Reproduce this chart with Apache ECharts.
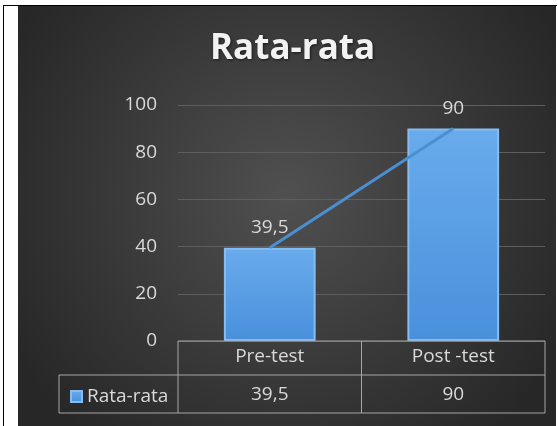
<!DOCTYPE html>
<html>
<head>
<meta charset="utf-8">
<script src="https://cdn.jsdelivr.net/npm/echarts@6/dist/echarts.min.js"></script>
<style>
html,body{margin:0;padding:0;background:#fff;width:558px;height:426px;overflow:hidden;}
#lineL{position:absolute;left:3px;top:5px;width:1px;height:421px;background:#000;}
#lineT{position:absolute;left:3px;top:5px;width:554px;height:1px;background:#000;}
#c{position:absolute;left:18px;top:6px;width:538px;height:420px;}
</style>
</head>
<body>
<div id="lineL"></div><div id="lineT"></div>
<div id="c"></div>
<script>
const title = 'Rata-rata';
const seriesName = 'Rata-rata';
const categories = ['Pre-test', 'Post -test'];
const values = [39.5, 90];
const yTicks = { min: 0, max: 100, interval: 20 };

const fmt = v => String(v).replace('.', ',');
const font = '"Open Sans", Lato, sans-serif';
const txt = '#d9d9d9';
const fs = 19;
const G = { left: 160, right: 11, top: 99, bottom: 85 };
const W = 538, H = 420;

const chart = echarts.init(document.getElementById('c'), null, { renderer: 'canvas' });

const gl = G.left, gr = W - G.right, gb = H - G.bottom;
const mid = (gl + gr) / 2;
const row1 = gb + 34, row2 = gb + 72;
const legL = 41;
const lineStyle = { stroke: '#a6a6a6', lineWidth: 1 };
const seg = (x1, y1, x2, y2) => ({ type: 'line', silent: true, shape: { x1, y1, x2, y2 }, style: lineStyle, z: 10 });

chart.setOption({
  backgroundColor: {
    type: 'radial', x: 0.5, y: 0.45, r: 0.75,
    colorStops: [{ offset: 0, color: '#505050' }, { offset: 1, color: '#272727' }]
  },
  title: {
    text: title, left: 187, top: 21,
    textStyle: { color: '#f2f2f2', fontFamily: font, fontWeight: 'bold', fontSize: 35,
      textShadowColor: 'rgba(0,0,0,0.6)', textShadowBlur: 3, textShadowOffsetX: 1, textShadowOffsetY: 1 }
  },
  legend: {
    data: [seriesName], left: legL + 6, top: row1 + 7, itemWidth: 11, itemHeight: 11, itemGap: 5,
    icon: 'rect', selectedMode: false,
    textStyle: { color: txt, fontFamily: font, fontSize: fs }
  },
  grid: G,
  xAxis: [{
    type: 'category', data: categories, position: 'bottom',
    axisLine: { show: false }, axisTick: { show: false },
    axisLabel: { color: txt, fontFamily: font, fontSize: fs, margin: 6 }
  }, {
    type: 'category', data: values.map(fmt), position: 'bottom', offset: 37,
    axisLine: { show: false }, axisTick: { show: false },
    axisLabel: { color: txt, fontFamily: font, fontSize: fs, margin: 7 }
  }],
  yAxis: {
    type: 'value', min: yTicks.min, max: yTicks.max, interval: yTicks.interval,
    axisLine: { show: false }, axisTick: { show: false },
    axisLabel: { color: txt, fontFamily: font, fontSize: fs, margin: 21 },
    splitLine: { lineStyle: { color: '#5e5e5e', width: 1 } }
  },
  series: [{
    name: seriesName, type: 'bar', data: values, barWidth: '50%',
    itemStyle: {
      color: { type: 'linear', x: 0, y: 0, x2: 0, y2: 1,
        colorStops: [{ offset: 0, color: '#69abec' }, { offset: 1, color: '#4990db' }] },
      borderColor: '#86bdf0', borderWidth: 2
    },
    label: { show: true, position: 'top', distance: 11, color: txt, fontFamily: font, fontSize: fs,
      formatter: p => fmt(p.value) },
    z: 2
  }, {
    name: 'trend', type: 'line', data: values, symbol: 'none',
    lineStyle: { color: '#4b8fd3', width: 3 }, z: 3
  }],
  graphic: [
    seg(gl, gb, gr, gb),
    seg(legL, row1, gr, row1),
    seg(legL, row2, gr, row2),
    seg(legL, row1, legL, row2),
    seg(gl, gb, gl, row2),
    seg(mid, gb, mid, row2),
    seg(gr, gb, gr, row2)
  ]
});
</script>
</body>
</html>
